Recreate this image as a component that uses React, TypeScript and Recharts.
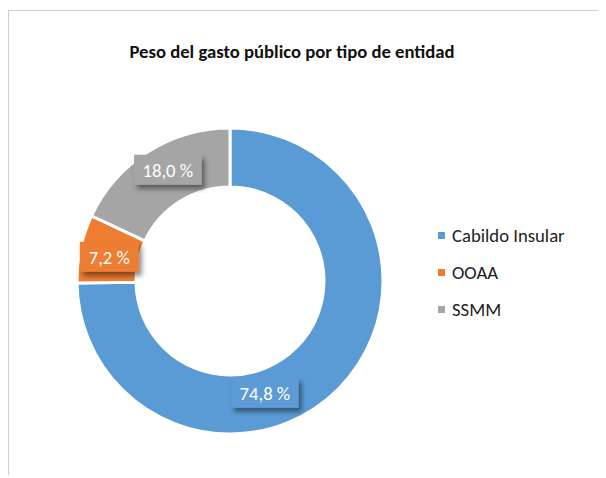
import { PieChart, Pie, Cell, Legend } from 'recharts';

const categories = ['Cabildo Insular', 'OOAA', 'SSMM'];
const shares = [74.8, 7.2, 18.0];
const colors = ['#5B9BD5', '#ED7D31', '#A5A5A5'];

// Excel moved the big label by hand; nudge it to the same spot
const LABEL_NUDGE = [
    { dx: -53, dy: 25 },
    { dx: 0, dy: 2 },
    { dx: 4, dy: -7 },
];

const chartData = categories.map((name, i) => ({ name, value: shares[i] }));

const FONT = 'Carlito, Calibri, "Liberation Sans Narrow", "Open Sans", sans-serif';
const FONT_SIZE = 18.7;
const RAD = Math.PI / 180;

function formatPct(p: number): string {
    return `${(p * 100).toFixed(1).replace('.', ',')} %`;
}

// eslint-disable-next-line @typescript-eslint/no-explicit-any
function renderLabel(props: any) {
    const { cx, cy, midAngle, innerRadius, outerRadius, percent, index } = props;
    const r = (innerRadius + outerRadius) / 2;
    const nudge = LABEL_NUDGE[index] ?? { dx: 0, dy: 0 };
    const x = cx + r * Math.cos(-midAngle * RAD) + nudge.dx;
    const y = cy + r * Math.sin(-midAngle * RAD) + nudge.dy;
    const text = formatPct(percent);
    const w = text.length * 8.6 + 16;
    const h = 30;
    return (
        <g key={`lbl-${index}`}>
            <rect
                x={x - w / 2}
                y={y - h / 2}
                width={w}
                height={h}
                fill={colors[index]}
                filter="url(#lblShadow)"
            />
            <text
                x={x}
                y={y + 1}
                fill="#fff"
                fontSize={FONT_SIZE}
                fontFamily={FONT}
                textAnchor="middle"
                dominantBaseline="central"
            >
                {text}
            </text>
        </g>
    );
}

// eslint-disable-next-line @typescript-eslint/no-explicit-any
function renderLegend(props: any) {
    const { payload } = props;
    return (
        <div style={{ fontFamily: FONT }}>
            {payload.map((entry: any, i: number) => (
                <div
                    key={i}
                    style={{ display: 'flex', alignItems: 'center', height: 37, fontSize: FONT_SIZE, color: '#222' }}
                >
                    <span
                        style={{
                            display: 'inline-block',
                            width: 7,
                            height: 7,
                            background: entry.color,
                            marginRight: 7,
                        }}
                    />
                    {entry.value}
                </div>
            ))}
        </div>
    );
}

export default function App() {
    return (
        <div
            style={{
                position: 'relative',
                top: 2,
                width: 598,
                height: 466,
                borderTop: '1px solid #BFD5E2',
                borderLeft: '1px solid #BFD5E2',
                background: '#fff',
            }}
        >
            <svg width={0} height={0} style={{ position: 'absolute' }}>
                <defs>
                    <filter id="lblShadow" x="-20%" y="-20%" width="160%" height="180%">
                        <feDropShadow dx={3} dy={4} stdDeviation={2.5} floodColor="#000" floodOpacity={0.45} />
                    </filter>
                </defs>
            </svg>
            <div
                style={{
                    position: 'absolute',
                    left: 0,
                    width: 566,
                    top: 29,
                    textAlign: 'center',
                    fontFamily: FONT,
                    fontWeight: 700,
                    fontSize: FONT_SIZE,
                    color: '#111',
                }}
            >
                Peso del gasto público por tipo de entidad
            </div>
            <PieChart width={597} height={465} margin={{ top: 0, right: 0, bottom: 0, left: 0 }}>
                <Pie
                    data={chartData}
                    dataKey="value"
                    nameKey="name"
                    cx={221}
                    cy={270}
                    innerRadius={94}
                    outerRadius={153}
                    startAngle={90}
                    endAngle={-270}
                    stroke="#fff"
                    strokeWidth={3}
                    label={renderLabel}
                    labelLine={false}
                    isAnimationActive={false}
                >
                    {chartData.map((_, i) => (
                        <Cell key={i} fill={colors[i]} />
                    ))}
                </Pie>
                <Legend
                    layout="vertical"
                    align="right"
                    verticalAlign="top"
                    content={renderLegend}
                    wrapperStyle={{ left: 429, top: 206, width: 168 }}
                />
            </PieChart>
        </div>
    );
}
